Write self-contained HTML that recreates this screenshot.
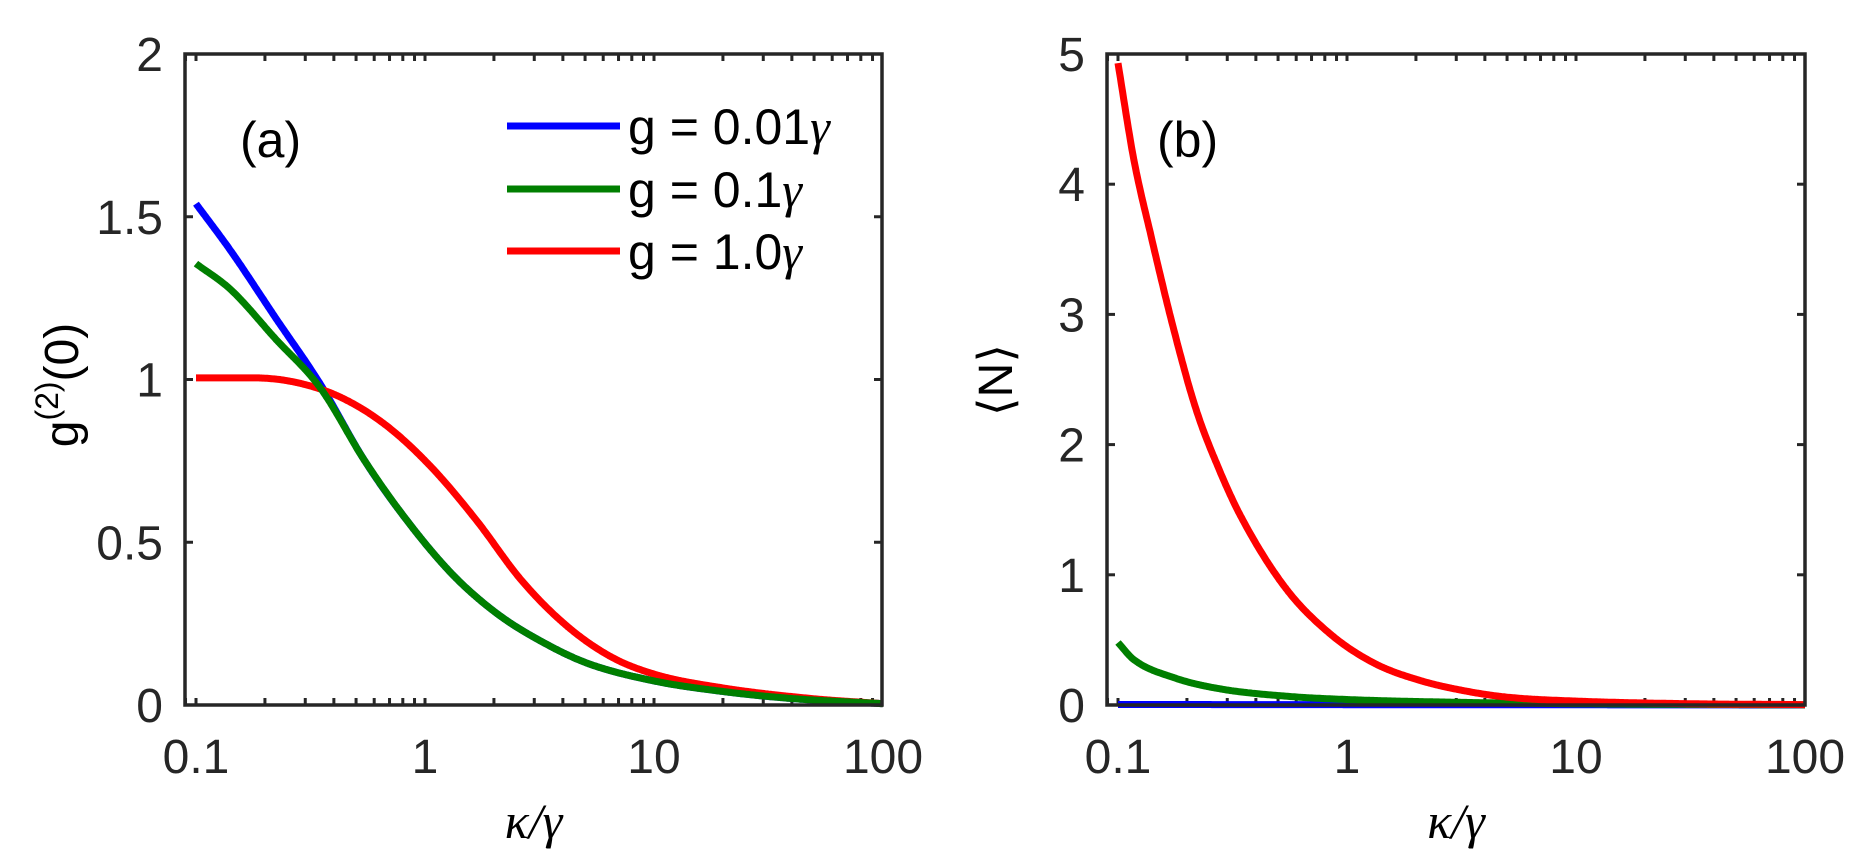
<!DOCTYPE html>
<html><head><meta charset="utf-8"><style>
html,body{margin:0;padding:0;background:#fff;}
svg{display:block;}
text{font-family:"Liberation Sans",sans-serif;fill:#262626;}
</style></head><body>
<svg id="s" width="1859" height="864" xmlns="http://www.w3.org/2000/svg"></svg>
<script>
const S=document.getElementById('s');
let h='';
const P=[{L:185,R:882,x0:196,T:54,B:705,ymax:2,yt:[0,0.5,1,1.5,2],yl:['0','0.5','1','1.5','2']},
         {L:1107,R:1805,x0:1118,T:54,B:705,ymax:5,yt:[0,1,2,3,4,5],yl:['0','1','2','3','4','5']}];
const dec=229;
function X(p,x){return p.x0+Math.log10(x/0.1)*dec;}
function Y(p,y){return p.B-(y/p.ymax)*(p.B-p.T);}
function mono(xs,ys){const n=xs.length,d=[],m=[];for(let i=0;i<n-1;i++)d.push((ys[i+1]-ys[i])/(xs[i+1]-xs[i]));
 m[0]=d[0];m[n-1]=d[n-2];for(let i=1;i<n-1;i++){m[i]=(d[i-1]*d[i]<=0)?0:(d[i-1]+d[i])/2;}
 for(let i=0;i<n-1;i++){if(d[i]==0){m[i]=m[i+1]=0;continue;}const a=m[i]/d[i],b=m[i+1]/d[i],s=a*a+b*b;if(s>9){const t=3/Math.sqrt(s);m[i]=t*a*d[i];m[i+1]=t*b*d[i];}}
 return x=>{let i=0;while(i<n-2&&x>xs[i+1])i++;const hh=xs[i+1]-xs[i],t=(x-xs[i])/hh,t2=t*t,t3=t2*t;
  return (2*t3-3*t2+1)*ys[i]+(t3-2*t2+t)*hh*m[i]+(-2*t3+3*t2)*ys[i+1]+(t3-t2)*hh*m[i+1];};}
// pts: [u (decades above 0.1), y]
function curve(p,pts,col){const f=mono(pts.map(a=>a[0]),pts.map(a=>a[1]));
 let d='';for(let i=0;i<=600;i++){const u=3*i/600;const y=Math.max(0,f(u));d+=(i?'L':'M')+(p.x0+u*dec).toFixed(1)+' '+Y(p,y).toFixed(1);}
 h+=`<path d="${d}" fill="none" stroke="${col}" stroke-width="7" stroke-linejoin="round"/>`;}
const tail=[[1.127,0.396],[1.32,0.278],[1.517,0.192],[1.71,0.128],[2.0,0.074],[2.296,0.042],[2.6,0.02],[3,0.004]];
const blue=[[0,1.54],[0.152,1.395],[0.347,1.19],[0.542,0.987],[0.737,0.75],[0.932,0.557]].concat(tail);
const green=[[0,1.356],[0.152,1.276],[0.347,1.125],[0.542,0.975],[0.737,0.75],[0.932,0.557]].concat(tail);
const red=[[0,1.005],[0.25,1.005],[0.444,0.99],[0.639,0.943],[0.834,0.857],[1.03,0.729],[1.224,0.568],[1.419,0.385],[1.614,0.246],[1.81,0.149],[2.0,0.095],[2.296,0.053],[2.686,0.02],[3,0.004]];
const rN=[[0,4.93],[0.068,4.2],[0.146,3.59],[0.244,2.88],[0.341,2.27],[0.439,1.82],[0.536,1.45],[0.731,0.90],[0.926,0.547],[1.12,0.32],[1.316,0.19],[1.51,0.11],[1.7,0.06],[2.0,0.03],[2.49,0.01],[3,0.003]];
const gN=[[0,0.48],[0.068,0.35],[0.244,0.21],[0.439,0.126],[0.731,0.068],[1,0.042],[1.51,0.02],[2,0.01],[3,0.001]];
const bN=[[0,0.004],[3,0.0]];
P.forEach((p,k)=>{
 for(let e=-2;e<=2;e++)for(let m=1;m<10;m++){const x=m*Math.pow(10,e);const px=X(p,x);if(px<p.L||px>p.R+0.5)continue;
  h+=`<line x1="${px}" y1="${p.B}" x2="${px}" y2="${p.B-7}" stroke="#262626" stroke-width="3"/><line x1="${px}" y1="${p.T}" x2="${px}" y2="${p.T+7}" stroke="#262626" stroke-width="3"/>`;}
 p.yt.forEach((v,i)=>{const py=Y(p,v);h+=`<line x1="${p.L}" y1="${py}" x2="${p.L+8}" y2="${py}" stroke="#262626" stroke-width="3"/><line x1="${p.R}" y1="${py}" x2="${p.R-8}" y2="${py}" stroke="#262626" stroke-width="3"/>`;
  h+=`<text x="${p.L-22}" y="${py+17}" font-size="48" text-anchor="end">${p.yl[i]}</text>`;});
 [[0.1,'0.1'],[1,'1'],[10,'10'],[100,'100']].forEach(a=>{h+=`<text x="${X(p,a[0])}" y="773" font-size="48" text-anchor="middle">${a[1]}</text>`;});
 h+=`<text x="${(p.L+p.R)/2}" y="838" font-size="50" text-anchor="middle" style="font-family:'Liberation Serif',serif;font-style:italic;fill:#000">κ/γ</text>`;
});
const a=P[0],b=P[1];
curve(a,blue,'#0000ff');curve(a,red,'#ff0000');curve(a,green,'#007f00');
curve(b,bN,'#0000ff');curve(b,gN,'#007f00');curve(b,rN,'#ff0000');
P.forEach(p=>{h+=`<rect x="${p.L}" y="${p.T}" width="${p.R-p.L}" height="${p.B-p.T}" fill="none" stroke="#262626" stroke-width="3.5"/>`;});
h+=`<text x="240" y="157" font-size="50" style="fill:#000">(a)</text><text x="1157" y="157" font-size="50" style="fill:#000">(b)</text>`;
[['#0000ff','0.01',126],['#007f00','0.1',189],['#ff0000','1.0',251]].forEach(l=>{
 h+=`<line x1="507" y1="${l[2]}" x2="620" y2="${l[2]}" stroke="${l[0]}" stroke-width="7"/>`;
 h+=`<text x="628" y="${l[2]+18}" font-size="50" style="fill:#000">g = ${l[1]}<tspan style="font-family:'Liberation Serif',serif;font-style:italic">γ</tspan></text>`;});
h+=`<text transform="translate(78,385) rotate(-90)" font-size="48" text-anchor="middle" style="fill:#000">g<tspan font-size="32" dy="-20">(2)</tspan><tspan dy="20">(0)</tspan></text>`;
h+=`<text transform="translate(1012,380) rotate(-90)" font-size="48" text-anchor="middle" style="fill:#000">⟨N⟩</text>`;
S.innerHTML=h;
</script>
</body></html>
